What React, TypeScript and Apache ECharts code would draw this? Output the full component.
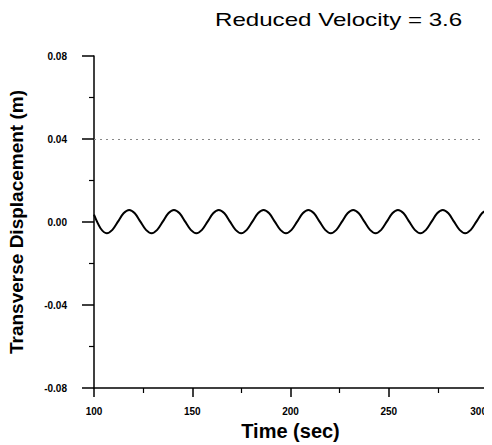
import React, { useEffect, useRef } from "react";
import * as echarts from "echarts";

const titleText = "Reduced Velocity = 3.6";
const xName = "Time (sec)";
const yName = "Transverse Displacement (m)";
const xTicks = [100, 150, 200, 250, 300];
const yTicks = [-0.08, -0.04, 0.0, 0.04, 0.08];
const refLevel = [0.04];

const timeSec = [
  100, 103.3, 106.5, 109.35, 112.2, 115.05, 117.9, 120.75, 123.6, 126.45,
  129.3, 132.15, 135.0, 137.85, 140.7, 143.55, 146.4, 149.25, 152.1, 154.95,
  157.8, 160.65, 163.5, 166.35, 169.2, 172.05, 174.9, 177.75, 180.6, 183.45,
  186.3, 189.15, 192.0, 194.85, 197.7, 200.55, 203.4, 206.25, 209.1, 211.95,
  214.8, 217.65, 220.5, 223.35, 226.2, 229.05, 231.9, 234.75, 237.6, 240.45,
  243.3, 246.15, 249.0, 251.85, 254.7, 257.55, 260.4, 263.25, 266.1, 268.95,
  271.8, 274.65, 277.5, 280.35, 283.2, 286.05, 288.9, 291.75, 294.6, 297.45,
  300,
];
const displacement = [
  0.0035, -0.003, -0.0054, -0.0038, 0.0002, 0.0042, 0.0058, 0.0042, 0.0002, -0.0038,
  -0.0054, -0.0038, 0.0002, 0.0042, 0.0058, 0.0042, 0.0002, -0.0038, -0.0054, -0.0038,
  0.0002, 0.0042, 0.0058, 0.0042, 0.0002, -0.0038, -0.0054, -0.0038, 0.0002, 0.0042,
  0.0058, 0.0042, 0.0002, -0.0038, -0.0054, -0.0038, 0.0002, 0.0042, 0.0058, 0.0042,
  0.0002, -0.0038, -0.0054, -0.0038, 0.0002, 0.0042, 0.0058, 0.0042, 0.0002, -0.0038,
  -0.0054, -0.0038, 0.0002, 0.0042, 0.0058, 0.0042, 0.0002, -0.0038, -0.0054, -0.0038,
  0.0002, 0.0042, 0.0058, 0.0042, 0.0002, -0.0038, -0.0054, -0.0038, 0.0002, 0.0042,
  0.0057,
];

export default function App() {
  const ref = useRef<HTMLDivElement>(null);
  useEffect(() => {
    if (!ref.current) return;
    const chart = echarts.init(ref.current, null, { renderer: "svg" });
    const font = "'Liberation Sans', Arial, sans-serif";
    chart.setOption({
      animation: false,
      backgroundColor: "#ffffff",
      graphic: [
        {
          type: "text",
          x: 215,
          y: 11,
          scaleX: 1.34,
          style: {
            text: titleText,
            fontSize: 18,
            fontFamily: font,
            fill: "#000",
          },
        },
      ],
      grid: { left: 94, right: 5, top: 56, bottom: 57, outerBoundsMode: "none", containLabel: false },
      xAxis: {
        type: "value",
        min: xTicks[0],
        max: xTicks[xTicks.length - 1],
        interval: 50,
        name: xName,
        nameLocation: "middle",
        nameGap: 32,
        nameTextStyle: { fontSize: 20, fontWeight: 900, fontFamily: font, color: "#000" },
        axisLine: { show: true, onZero: false, lineStyle: { color: "#000", width: 1.5 } },
        axisTick: { show: true, length: 9, lineStyle: { color: "#000", width: 1.5 } },
        minorTick: { show: true, splitNumber: 2, length: 5, lineStyle: { color: "#000", width: 1.2 } },
        splitLine: { show: false },
        axisLabel: {
          margin: 18,
          fontSize: 10,
          fontWeight: "bold",
          fontFamily: font,
          color: "#000",
          alignMaxLabel: "right",
        },
      },
      yAxis: {
        type: "value",
        min: yTicks[0],
        max: yTicks[yTicks.length - 1],
        interval: 0.04,
        name: yName,
        nameLocation: "middle",
        nameGap: 68,
        nameTextStyle: { fontSize: 19, fontWeight: "bold", fontFamily: font, color: "#000" },
        axisLine: { show: true, lineStyle: { color: "#000", width: 1.5 } },
        axisTick: { show: true, length: 12, lineStyle: { color: "#000", width: 1.5 } },
        minorTick: { show: true, splitNumber: 2, length: 5, lineStyle: { color: "#000", width: 1.2 } },
        splitLine: { show: false },
        axisLabel: {
          margin: 27,
          fontSize: 10,
          fontWeight: "bold",
          fontFamily: font,
          color: "#000",
          formatter: (v: number) => v.toFixed(2),
        },
      },
      series: [
        {
          type: "line",
          data: timeSec.map((t, i) => [t, displacement[i]]),
          smooth: 0.3,
          showSymbol: false,
          lineStyle: { color: "#000", width: 2 },
          markLine: {
            silent: true,
            symbol: "none",
            label: { show: false },
            lineStyle: { color: "#888", type: [2, 4], width: 1 },
            data: refLevel.map((v) => ({ yAxis: v })),
          },
        },
      ],
    });
    return () => chart.dispose();
  }, []);
  return (
    <div
      ref={ref}
      style={{ width: 492, height: 445, marginLeft: -8, marginTop: -8 }}
    />
  );
}
